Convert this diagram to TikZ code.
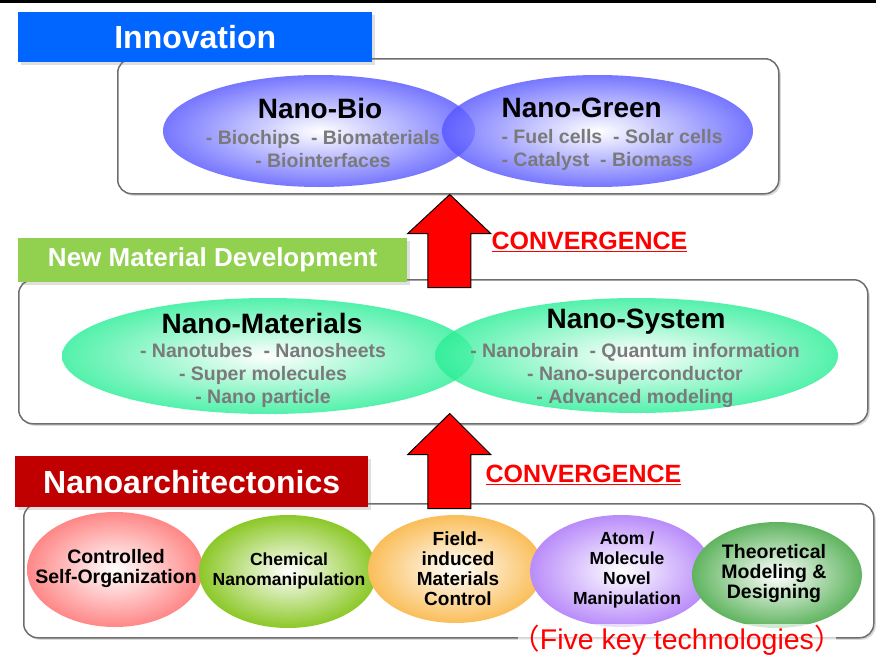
\documentclass[tikz,border=0pt]{standalone}
\usepackage{fontspec}
\setmainfont{Liberation Sans}
\newfontfamily\cjk{Noto Sans CJK JP}
\usetikzlibrary{shapes.geometric,shadows}

\definecolor{innoblue}{RGB}{0,102,255}
\definecolor{devgreen}{RGB}{146,208,80}
\definecolor{archred}{RGB}{192,0,0}
\definecolor{panelgray}{RGB}{110,110,110}
\definecolor{itemgray}{RGB}{122,122,122}
\definecolor{bioblue}{RGB}{85,85,255}
\definecolor{mint}{RGB}{40,238,150}
\definecolor{rosy}{RGB}{255,135,135}
\definecolor{lime}{RGB}{140,200,40}
\definecolor{apricot}{RGB}{250,190,90}
\definecolor{lilac}{RGB}{185,140,250}
\definecolor{leaf}{RGB}{95,180,95}
\definecolor{convred}{RGB}{255,0,0}

\tikzset{
  panel/.style={draw=panelgray, line width=1.5pt, fill=white, rounded corners=14pt,
    drop shadow={shadow xshift=2pt, shadow yshift=-2pt, opacity=0.3}, anchor=north west},
  tag/.style={anchor=north west, text=white, inner sep=0pt,
    drop shadow={shadow xshift=3pt, shadow yshift=-3pt, opacity=0.25}},
  blob/.style={ellipse, inner sep=0pt, inner color=white, outer color=#1},
  clear/.style={fill opacity=0.8, text opacity=1},
  title/.style={font=\bfseries\fontsize{28}{30}\selectfont},
  items/.style={font=\bfseries\fontsize{19.5}{23}\selectfont, text=itemgray, align=center},
  tech/.style={font=\bfseries\fontsize{#1}{20}\selectfont, align=center},
  conv/.style={anchor=west, text=convred, font=\bfseries\fontsize{25}{27}\selectfont},
  bigarrow/.style={fill=convred, draw=black, line width=1pt, line join=miter}
}

\begin{document}
\begin{tikzpicture}[x=1pt, y=-1pt]
\useasboundingbox (0,0) rectangle (876,656);
\fill[black] (0,0) rectangle (876,3);

% panels
\node[panel, minimum width=661pt, minimum height=135pt] (toppanel) at (117,58) {};
\node[panel, minimum width=849pt, minimum height=144pt] (midpanel) at (18,279) {};
\node[panel, minimum width=850pt, minimum height=134pt] (lowpanel) at (23,503) {};

% Innovation
\node[blob=bioblue, clear, minimum width=312pt, minimum height=112pt] (bio) at (319,131) {};
\node[blob=bioblue, clear, minimum width=311pt, minimum height=112pt] (green) at (597.5,131) {};
\node[title] (biotitle) at (320,108) {Nano-Bio};
\node[items] (bioitems) at (323,149.5) {- Biochips\ \ - Biomaterials\\- Biointerfaces};
\node[title, anchor=west] (greentitle) at (498,108) {Nano-Green};
\node[items, align=left, anchor=west] (greenitems) at (498,149.5) {- Fuel cells\ \ - Solar cells\\- Catalyst\ \ - Biomass};

% New material development
\node[blob=mint, clear, minimum width=412pt, minimum height=116pt] (mat) at (268,356) {};
\node[blob=mint, clear, minimum width=403pt, minimum height=115pt] (sys) at (636.5,355.5) {};
\node[title] (mattitle) at (262,323) {Nano-Materials};
\node[items] (matitems) at (263,375) {- Nanotubes\ \ - Nanosheets\\- Super molecules\\- Nano particle};
\node[title] (systitle) at (636,322) {Nano-System};
\node[items] (sysitems) at (635,375) {- Nanobrain\ \ - Quantum information\\- Nano-superconductor\\- Advanced modeling};

% five key technologies
\node[blob=rosy, minimum width=176pt, minimum height=115pt] (selforg) at (115,569.5) {};
\node[blob=lime, minimum width=178pt, minimum height=113pt] (chem) at (288,571.5) {};
\node[blob=apricot, minimum width=175pt, minimum height=108pt] (field) at (455.5,569) {};
\node[blob=lilac, minimum width=182pt, minimum height=112pt] (atom) at (621,571) {};
\node[blob=leaf, minimum width=170pt, minimum height=106pt] (theory) at (777,575) {};
\node[tech=19.5] (selforgtext) at (116,568.5) {Controlled\\Self-Organization};
\node[tech=17.5] (chemtext) at (289,570.5) {Chemical\\Nanomanipulation};
\node[tech=19] (fieldtext) at (458,568.5) {Field-\\induced\\Materials\\Control};
\node[tech=17.5] (atomtext) at (627,570) {Atom /\\Molecule\\Novel\\Manipulation};
\node[tech=19.5] (theorytext) at (774,573.5) {Theoretical\\Modeling \&\\Designing};

% tags
\node[tag, fill=innoblue, minimum width=354pt, minimum height=50pt,
  font=\bfseries\fontsize{32}{34}\selectfont] (innovation) at (18,12) {Innovation};
\node[tag, fill=devgreen, minimum width=389pt, minimum height=44pt,
  font=\bfseries\fontsize{26}{28}\selectfont] (newmat) at (18,238) {New Material Development};
\node[tag, fill=archred, minimum width=353pt, minimum height=51pt,
  font=\bfseries\fontsize{32}{34}\selectfont] (nanoarch) at (15,456) {Nanoarchitectonics};

% convergence arrows
\coordinate (tipone) at ([xshift=1.5pt]toppanel.south);
\coordinate (tiptwo) at ([yshift=11pt]midpanel.south -| tipone);
\filldraw[bigarrow] (tipone) -- ++(41,39) -- ++(-20,0) -- ++(0,54) -- ++(-43,0)
  -- ++(0,-54) -- ++(-20,0) -- cycle;
\filldraw[bigarrow] (tiptwo) -- ++(41,41) -- ++(-20,0) -- ++(0,54) -- ++(-43,0)
  -- ++(0,-54) -- ++(-20,0) -- cycle;
\node[conv] (convone) at (488,242) {\underline{CONVERGENCE}};
\node[conv] (convtwo) at (482,475) {\underline{CONVERGENCE}};

\node[anchor=base, text=convred, fill=white, fill opacity=0.7, text opacity=1,
  inner xsep=-7pt, inner ysep=1pt,
  font=\fontsize{28.5}{30}\selectfont] (fivekey) at (677,649) {{\cjk （}Five key technologies{\cjk ）}};

\end{tikzpicture}
\end{document}
